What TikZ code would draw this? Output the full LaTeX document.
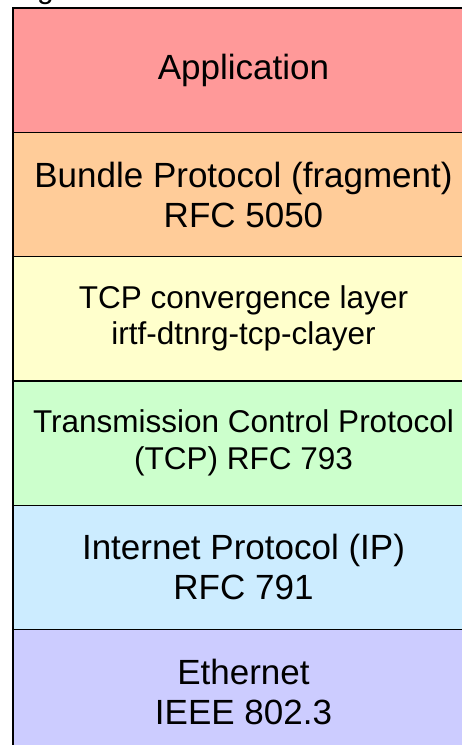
\documentclass[tikz,border=0pt]{standalone}
\usepackage{fontspec}
\setmainfont{Liberation Sans}
\usetikzlibrary{calc}

\definecolor{appred}{RGB}{255,153,153}
\definecolor{bundleorange}{RGB}{255,204,153}
\definecolor{clyellow}{RGB}{255,255,204}
\definecolor{tcpgreen}{RGB}{204,255,204}
\definecolor{ipblue}{RGB}{204,236,255}
\definecolor{ethviolet}{RGB}{204,204,255}

\begin{document}
\begin{tikzpicture}[x=1pt,y=-1pt,inner sep=0pt,node distance=124.3pt,
    layer/.style={draw=black,line width=1.5pt,minimum width=461.5pt,
        minimum height=124.3pt,align=center,
        font=\fontsize{35}{40}\selectfont}]
        \useasboundingbox (0,0) rectangle (462,745);
        \clip (0,0) rectangle (462,745);
        \draw node [anchor=base west,font=\fontsize{30}{36}\selectfont]
            (title) at (37,-1.5) {g};
        \draw node [layer,fill=appred](L1) at (243.5,70.2) {Application};
        \draw node [layer,fill=bundleorange,below of=L1]
            (L2) {Bundle Protocol (fragment)\\RFC 5050};
        \draw node [layer,fill=clyellow,below of=L2,
            font=\fontsize{31.5}{36}\selectfont]
            (L3) {TCP convergence layer\\irtf-dtnrg-tcp-clayer};
        \draw node [layer,fill=tcpgreen,below of=L3,
            font=\fontsize{31.5}{37}\selectfont]
            (L4) {Transmission Control Protocol\\(TCP) RFC 793};
        \draw node [layer,fill=ipblue,below of=L4]
            (L5) {Internet Protocol (IP)\\RFC 791};
        \draw node [layer,fill=ethviolet,below of=L5]
            (L6) {Ethernet\\IEEE 802.3};
    \end{tikzpicture}
\end{document}
